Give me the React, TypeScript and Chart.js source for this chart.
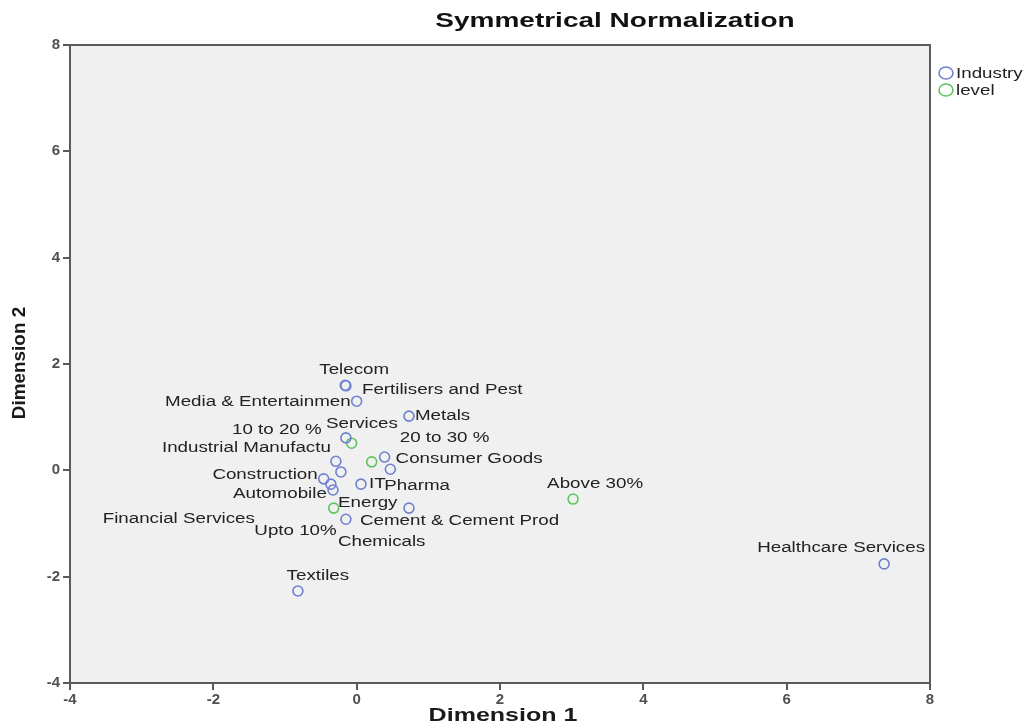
import React, { useEffect, useRef } from "react";
import { Chart, registerables } from "chart.js";
Chart.register(...registerables);

const industryNames = ["Telecom", "Fertilisers and Pest", "Media & Entertainmen", "Metals", "Services", "Industrial Manufactu", "Consumer Goods", "Pharma", "Financial Services", "Construction", "Automobile", "Energy", "IT", "Cement & Cement Prod", "Chemicals", "Textiles", "Healthcare Services"];
const industryX = [-0.16, -0.15, 0.0, 0.73, -0.15, -0.29, 0.39, 0.47, -0.22, -0.46, -0.36, -0.33, 0.06, 0.73, -0.15, -0.82, 7.36];
const industryY = [1.6, 1.59, 1.3, 1.02, 0.61, 0.17, 0.25, 0.02, -0.03, -0.16, -0.26, -0.37, -0.26, -0.71, -0.92, -2.27, -1.76];

const levelNames = ["10 to 20 %", "20 to 30 %", "Upto 10%", "Above 30%"];
const levelX = [-0.07, 0.21, -0.32, 3.02];
const levelY = [0.51, 0.16, -0.71, -0.54];

const axisTicks = [-4, -2, 0, 2, 4, 6, 8];

// label placement (pixel offsets from point, text alignment)
const industryLabelStyle: [number, number, string][] = [
  [9, -15, "center"], [16, 4, "left"], [-6, 1, "right"], [6, 0, "left"], [16, -14, "center"],
  [-5, -13, "right"], [11, 2, "left"], [-6, 17, "left"], [-86, 47, "right"], [-6, -4, "right"],
  [-4, 10, "right"], [5, 13, "left"], [8, 0, "left"], [-49, 13, "left"], [-8, 23, "left"],
  [20, -15, "center"], [-43, -16, "center"],
];
const levelLabelStyle: [number, number, string][] = [
  [-30, -13, "right"], [28, -24, "left"], [3, 23, "right"], [22, -15, "center"],
];

const BLUE = "#6f80d0";
const GREEN = "#5cc65c";
const STRETCH = 1.34;

function drawText(ctx: CanvasRenderingContext2D, t: string, x: number, y: number, align: string, sx: number) {
  const w = ctx.measureText(t).width * sx;
  const left = align === "left" ? x : align === "right" ? x - w : x - w / 2;
  ctx.save();
  ctx.translate(left, y);
  ctx.scale(sx, 1);
  ctx.textAlign = "left";
  ctx.fillText(t, 0, 0);
  ctx.restore();
}

export default function App() {
  const ref = useRef<HTMLCanvasElement>(null);
  useEffect(() => {
    const canvas = ref.current!;
    const decor = {
      id: "decor",
      beforeDraw(chart: any) {
        const { ctx, chartArea: a } = chart;
        ctx.save();
        ctx.fillStyle = "#f0f0f0";
        ctx.fillRect(a.left, a.top, a.right - a.left, a.bottom - a.top);
        ctx.restore();
      },
      afterDraw(chart: any) {
        const { ctx, chartArea: a } = chart;
        const xs = chart.scales.x, ys = chart.scales.y;
        ctx.save();
        ctx.strokeStyle = "#5a5a5a";
        ctx.lineWidth = 2;
        ctx.strokeRect(a.left, a.top, a.right - a.left, a.bottom - a.top);
        // point labels
        ctx.font = "14px 'Liberation Sans', Arial, sans-serif";
        ctx.fillStyle = "#222";
        ctx.textBaseline = "middle";
        industryNames.forEach((n, i) => {
          const [dx, dy, al] = industryLabelStyle[i];
          drawText(ctx, n, xs.getPixelForValue(industryX[i]) + dx, ys.getPixelForValue(industryY[i]) + dy, al, STRETCH);
        });
        levelNames.forEach((n, i) => {
          const [dx, dy, al] = levelLabelStyle[i];
          drawText(ctx, n, xs.getPixelForValue(levelX[i]) + dx, ys.getPixelForValue(levelY[i]) + dy, al, STRETCH);
        });
        // title
        ctx.font = "bold 20px 'Liberation Sans', Arial, sans-serif";
        ctx.fillStyle = "#111";
        drawText(ctx, "Symmetrical Normalization", 615, 21, "center", 1.4);
        // axis titles
        ctx.font = "bold 18px 'Liberation Sans', Arial, sans-serif";
        ctx.fillStyle = "#1a1a1a";
        drawText(ctx, "Dimension 1", (a.left + a.right) / 2 + 3, 716, "center", 1.39);
        ctx.save();
        ctx.translate(20, 363);
        ctx.rotate(-Math.PI / 2);
        drawText(ctx, "Dimension 2", 0, 0, "center", 1.05);
        ctx.restore();
        // legend
        const lx = a.right + 16;
        const items: [string, string][] = [["Industry", BLUE], ["level", GREEN]];
        ctx.font = "14px 'Liberation Sans', Arial, sans-serif";
        items.forEach(([t, c], i) => {
          const y = 73 + i * 17;
          ctx.beginPath();
          ctx.strokeStyle = c;
          ctx.lineWidth = 1.6;
          ctx.ellipse(lx, y, 7, 6, 0, 0, Math.PI * 2);
          ctx.stroke();
          ctx.fillStyle = "#222";
          drawText(ctx, t, lx + 10, y + 1, "left", STRETCH);
        });
        ctx.restore();
      },
    };
    const tickFont = { family: "'Liberation Sans', Arial, sans-serif", size: 15, weight: "bold" };
    const chart = new Chart(canvas, {
      type: "scatter",
      data: {
        datasets: [
          {
            label: "Industry",
            data: industryX.map((x, i) => ({ x, y: industryY[i] })),
            pointRadius: 5,
            pointBorderWidth: 1.6,
            borderColor: BLUE,
            backgroundColor: "rgba(0,0,0,0)",
          },
          {
            label: "level",
            data: levelX.map((x, i) => ({ x, y: levelY[i] })),
            pointRadius: 5,
            pointBorderWidth: 1.6,
            borderColor: GREEN,
            backgroundColor: "rgba(0,0,0,0)",
          },
        ],
      },
      options: {
        animation: false,
        responsive: false,
        layout: { padding: { top: 45, right: 101, left: 0, bottom: 0 } },
        plugins: { legend: { display: false }, tooltip: { enabled: false }, title: { display: false } },
        scales: {
          x: {
            type: "linear",
            min: -4,
            max: 8,
            afterBuildTicks: (s: any) => { s.ticks = axisTicks.map((v) => ({ value: v })); },
            afterFit: (s: any) => { s.height = 43; },
            grid: { drawOnChartArea: false, drawTicks: true, tickLength: 7, color: "#5a5a5a", lineWidth: 2 },
            border: { display: false },
            ticks: { color: "#505050", font: tickFont, padding: 1, maxRotation: 0 },
          },
          y: {
            type: "linear",
            min: -4,
            max: 8,
            afterBuildTicks: (s: any) => { s.ticks = axisTicks.map((v) => ({ value: v })); },
            afterFit: (s: any) => { s.width = 70; },
            grid: { drawOnChartArea: false, drawTicks: true, tickLength: 7, color: "#5a5a5a", lineWidth: 2 },
            border: { display: false },
            ticks: { color: "#505050", font: tickFont, padding: 3 },
          },
        },
      },
      plugins: [decor],
    } as any);
    return () => chart.destroy();
  }, []);
  return (
    <div style={{ position: "fixed", left: 0, top: 0, width: 1031, height: 726, background: "#fff" }}>
      <canvas ref={ref} width={1031} height={726} style={{ display: "block" }} />
    </div>
  );
}
